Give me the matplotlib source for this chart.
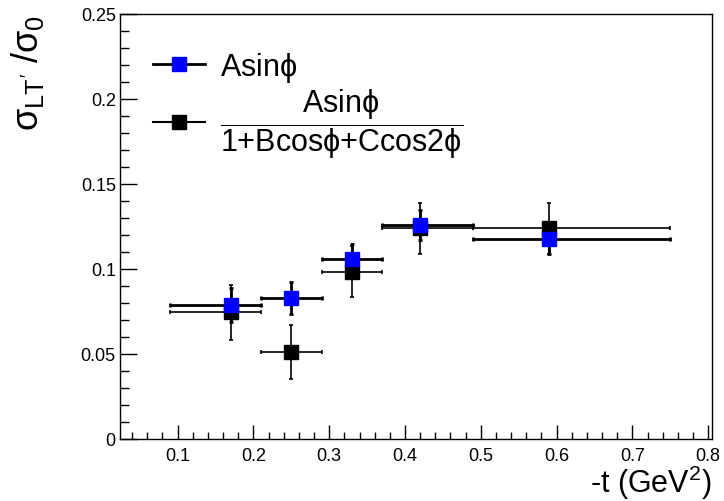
import matplotlib
matplotlib.use("Agg")
import matplotlib.pyplot as plt
from matplotlib.lines import Line2D
from matplotlib.ticker import MultipleLocator
import numpy as np

plt.rcParams['font.family'] = ['Liberation Sans', 'DejaVu Sans']
plt.rcParams['mathtext.fontset'] = 'custom'
plt.rcParams['mathtext.rm'] = 'Liberation Sans'
plt.rcParams['mathtext.it'] = 'Liberation Sans'
plt.rcParams['mathtext.bf'] = 'Liberation Sans:bold'

# -t bins (GeV^2)
t_mean = np.array([0.17, 0.25, 0.33, 0.42, 0.59])
t_lo = np.array([0.09, 0.21, 0.29, 0.37, 0.49])
t_hi = np.array([0.21, 0.29, 0.37, 0.49, 0.75])

# sigma_LT'/sigma_0, Asin(phi) fit
asin_val = np.array([0.0788, 0.083, 0.106, 0.126, 0.1176])
asin_err = np.array([0.0098, 0.0094, 0.009, 0.009, 0.009])

# full fit Asin(phi)/(1+Bcos(phi)+Ccos(2phi))
full_val = np.array([0.0745, 0.0511, 0.0984, 0.124, 0.124])
full_err = np.array([0.0163, 0.016, 0.015, 0.015, 0.015])

xerr = [t_mean - t_lo, t_hi - t_mean]

fig = plt.figure(figsize=(7.24, 5.02), dpi=100)
ax = fig.add_axes([120 / 724, 62 / 502, 592 / 724, 425 / 502])

ax.errorbar(t_mean, full_val, xerr=xerr, yerr=full_err, fmt='s', color='black',
            ms=10.5, mec='black', mfc='black', elinewidth=1.2, capsize=1.5,
            capthick=1.2, zorder=3)
ax.errorbar(t_mean, asin_val, xerr=xerr, yerr=asin_err, fmt='s', color='black',
            ms=10.5, mec='blue', mfc='blue', elinewidth=2, capsize=1.5,
            capthick=2, zorder=4)

ax.set_xlim(0.024, 0.805)
ax.set_ylim(0, 0.25)

ax.xaxis.set_major_locator(MultipleLocator(0.1))
ax.xaxis.set_minor_locator(MultipleLocator(0.02))
ax.yaxis.set_major_locator(MultipleLocator(0.05))
ax.yaxis.set_minor_locator(MultipleLocator(0.01))
ax.xaxis.set_major_formatter(matplotlib.ticker.FuncFormatter(lambda v, p: f"{v:g}"))
ax.yaxis.set_major_formatter(matplotlib.ticker.FuncFormatter(lambda v, p: f"{v:g}"))

ax.tick_params(axis='both', which='both', direction='in', top=False, right=False,
               labelsize=13, width=1)
ax.tick_params(axis='y', which='major', length=12.5, pad=3)
ax.tick_params(axis='y', which='minor', length=6.5)
ax.tick_params(axis='x', which='major', length=10, pad=6)
ax.tick_params(axis='x', which='minor', length=5)
for s in ax.spines.values():
    s.set_linewidth(1)

ax.set_xlabel(r'-t (GeV$^{2}$)', fontsize=22, loc='right', labelpad=-1.5)
ax.set_ylabel(r"$\sigma_{LT'}\ /\sigma_{0}$", fontsize=26, loc='top', labelpad=25)

h1 = Line2D([], [], color='black', lw=2, marker='s', ms=10.5, mfc='blue', mec='blue')
h2 = Line2D([], [], color='black', lw=1.5, marker='s', ms=10.5, mfc='black', mec='black')
labels = [r'Asin$\mathregular{\phi}$',
          r'$\dfrac{\mathrm{Asin}\phi}{\mathrm{1{+}Bcos}\phi\mathrm{{+}Ccos2}\phi}$']
ax.legend([h1, h2], labels, loc='upper left', bbox_to_anchor=(0.056, 0.916),
          frameon=False, fontsize=22, handlelength=1.7, handletextpad=0.48,
          labelspacing=0.1, borderpad=0, borderaxespad=0)

fig.savefig('out.png', dpi=100)
